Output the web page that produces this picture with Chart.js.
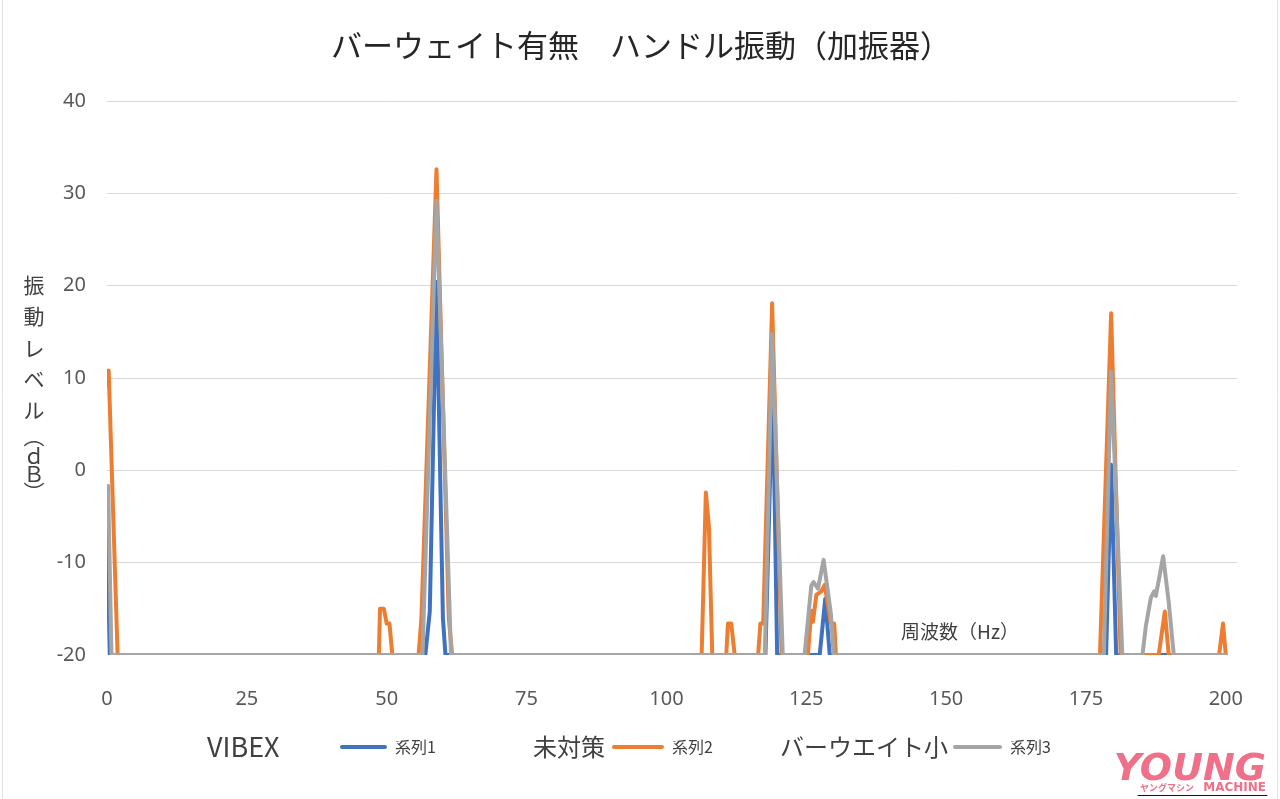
<!DOCTYPE html>
<html lang="ja">
<head>
<meta charset="UTF-8">
<title>バーウェイト有無 ハンドル振動（加振器）</title>
<script src="https://cdn.jsdelivr.net/npm/chart.js@4.4.1/dist/chart.umd.min.js"></script>
<style>
    html, body { margin: 0; padding: 0; background: #ffffff; }
    .chart-wrap { position: relative; width: 1280px; height: 799px; }
</style>
</head>
<body>
<div class="chart-wrap">
    <canvas id="vibrationChart"></canvas>
</div>
<script>
// Values (frequency in Hz, level in dB)
const vibexHz = [0, 0.5, 56.9, 57.7, 58.9, 60.05, 60.5, 117.7, 119, 119.8, 127.4, 128.4, 129.2, 178.6, 179.5, 180.4, 200];
const vibexDb = [-5.6, -20, -20, -15.3, 20.4, -16, -20, -20, 9.8, -20, -20, -13.9, -20, -20, 0.6, -20, -20];

const untreatedHz = [0, 0.3, 1.9, 48.6, 48.8, 49.5, 50.0, 50.5, 51, 55.7, 56.2, 58.9, 61.1, 61.7,
    106.3, 107.05, 107.6, 108.2, 110.7, 111, 111.6, 112.2, 116.4, 116.8, 117.3, 118.9, 120.6,
    125.3, 125.9, 126.2, 126.8, 127.7, 128.3, 129.4, 130, 130.3, 177.5, 179.5, 181.2,
    188, 189.1, 189.8, 198.8, 199.5, 200];
const untreatedDb = [9.2, 10.8, -20, -20, -15, -15, -16.6, -16.6, -20, -20, -16.1, 32.6, -16, -20,
    -20, -2.4, -6.1, -20, -20, -16.6, -16.6, -20, -20, -16.6, -16.6, 18.1, -20,
    -20, -15.2, -16.4, -13.5, -13.1, -12.4, -16.6, -16.6, -20, -20, 17, -20,
    -20, -15.3, -20, -20, -16.6, -20];

const smallWeightHz = [0, 0.2, 0.8, 56.4, 58.9, 61.5, 117.6, 118.9, 120.8,
    124.7, 125.9, 126.3, 127.1, 128.1, 129.4, 129.9, 178.2, 179.5, 181.5,
    185.1, 185.7, 186.6, 187.2, 187.5, 188.8, 189.8, 190.7, 200];
const smallWeightDb = [-1.7, -1.7, -20, -20, 29.2, -20, -20, 14.8, -20,
    -20, -12.5, -12.1, -12.8, -9.7, -15.5, -20, -20, 10.7, -20,
    -20, -16.9, -13.8, -13.1, -13.6, -9.3, -14.3, -20, -20];

const seriesLabels = ['系列1', '系列2', '系列3'];
const groupNames = ['VIBEX', '未対策', 'バーウエイト小'];
const seriesColors = ['#3f72c0', '#ed7d31', '#a5a5a5'];
const xTicks = [0, 25, 50, 75, 100, 125, 150, 175, 200];
const yTicks = [-20, -10, 0, 10, 20, 30, 40];

function toPoints(xs, ys) {
    return xs.map((x, i) => ({ x: x, y: ys[i] }));
}

const textColor = '#404040';
const jpFont = '"Noto Sans CJK JP", "Noto Sans", sans-serif';

// Title, axis titles, legend and logo drawn on the canvas
const decorations = {
    id: 'decorations',
    afterDraw(chart) {
        const ctx = chart.ctx;
        ctx.save();

        // frame edges
        ctx.strokeStyle = '#e2e2e2';
        ctx.lineWidth = 1;
        ctx.beginPath();
        ctx.moveTo(2.5, 0); ctx.lineTo(2.5, 799);
        ctx.moveTo(1277.5, 0); ctx.lineTo(1277.5, 799);
        ctx.stroke();

        // title
        ctx.fillStyle = '#262626';
        ctx.font = '31px ' + jpFont;
        ctx.textAlign = 'center';
        ctx.textBaseline = 'middle';
        ctx.fillText('バーウェイト有無　ハンドル振動（加振器）', 641, 45);

        // vertical y axis title
        ctx.fillStyle = textColor;
        ctx.font = '21px ' + jpFont;
        const yChars = ['振', '動', 'レ', 'ベ', 'ル', '︵', 'ｄ', 'Ｂ', '︶'];
        const yPos = [285, 316, 348, 379, 410, 436, 456, 474, 492];
        yChars.forEach((c, i) => ctx.fillText(c, 34, yPos[i]));

        // x axis title inside plot
        ctx.font = '19px ' + jpFont;
        ctx.fillText('周波数（Hz）', 960, 632);

        // legend
        const bigX = [207, 533, 780];
        const bigSize = [27, 24, 24];
        const lineX = [[342, 385], [614, 662], [955, 1000]];
        const labelX = [395, 672, 1010];
        const ly = 747;
        ctx.textAlign = 'left';
        chart.data.datasets.forEach((ds, i) => {
            ctx.fillStyle = textColor;
            ctx.font = bigSize[i] + 'px ' + jpFont;
            ctx.fillText(groupNames[i], bigX[i], ly);
            ctx.strokeStyle = ds.borderColor;
            ctx.lineWidth = 4;
            ctx.lineCap = 'round';
            ctx.beginPath();
            ctx.moveTo(lineX[i][0], ly);
            ctx.lineTo(lineX[i][1], ly);
            ctx.stroke();
            ctx.fillStyle = textColor;
            ctx.font = '16px ' + jpFont;
            ctx.fillText(ds.label, labelX[i], ly);
        });

        // logo
        ctx.fillStyle = '#ef7088';
        ctx.font = 'italic 900 38px "DejaVu Sans", sans-serif';
        ctx.textAlign = 'right';
        ctx.fillText('YOUNG', 1266, 770);
        ctx.font = 'bold 9px ' + jpFont;
        ctx.fillText('ヤングマシン', 1194, 788);
        ctx.font = 'bold 12px "DejaVu Sans", sans-serif';
        ctx.fillText('MACHINE', 1266, 788);
        ctx.strokeStyle = '#111111';
        ctx.lineWidth = 1;
        ctx.beginPath();
        ctx.moveTo(1138, 795.5); ctx.lineTo(1267, 795.5);
        ctx.stroke();

        ctx.restore();
    }
};

document.addEventListener('DOMContentLoaded', function() {
    const ctx = document.getElementById('vibrationChart').getContext('2d');
    const datasets = [
        { pts: toPoints(vibexHz, vibexDb), order: 3 },
        { pts: toPoints(untreatedHz, untreatedDb), order: 2 },
        { pts: toPoints(smallWeightHz, smallWeightDb), order: 1 }
    ].map((d, i) => ({
        label: seriesLabels[i],
        data: d.pts,
        borderColor: seriesColors[i],
        backgroundColor: seriesColors[i],
        borderWidth: 4,
        borderJoinStyle: 'round',
        borderCapStyle: 'round',
        pointRadius: 0,
        tension: 0,
        fill: false,
        order: d.order
    }));

    new Chart(ctx, {
        type: 'line',
        data: { datasets: datasets },
        options: {
            responsive: true,
            maintainAspectRatio: false,
            animation: false,
            layout: { padding: { left: 0, right: 43, top: 101, bottom: 84 } },
            plugins: {
                legend: { display: false },
                title: { display: false },
                tooltip: { enabled: false }
            },
            scales: {
                x: {
                    type: 'linear',
                    min: 0,
                    max: 202,
                    afterFit: (scale) => { scale.height = 60; },
                    afterBuildTicks: (scale) => { scale.ticks = xTicks.map(v => ({ value: v })); },
                    ticks: {
                        stepSize: 25,
                        includeBounds: false,
                        padding: 24,
                        color: '#595959',
                        font: { family: '"Noto Sans", sans-serif', size: 20 }
                    },
                    grid: { display: false },
                    border: { display: false }
                },
                y: {
                    min: -20,
                    max: 40,
                    afterFit: (scale) => { scale.width = 107; },
                    afterBuildTicks: (scale) => { scale.ticks = yTicks.map(v => ({ value: v })); },
                    ticks: {
                        stepSize: 10,
                        padding: 21,
                        color: '#595959',
                        font: { family: '"Noto Sans", sans-serif', size: 20 }
                    },
                    grid: {
                        drawTicks: false,
                        color: (c) => (c.tick && c.tick.value === -20) ? 'rgba(0,0,0,0)' : '#d9d9d9',
                        lineWidth: 1
                    },
                    border: { display: false }
                }
            }
        },
        plugins: [decorations]
    });
});
</script>
</body>
</html>
